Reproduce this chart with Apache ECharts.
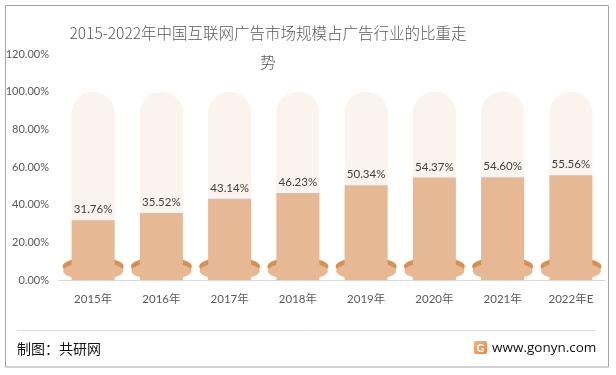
<!DOCTYPE html>
<html><head><meta charset="utf-8">
<script src="https://cdn.jsdelivr.net/npm/echarts@6/dist/echarts.min.js"></script>
<style>html,body{margin:0;padding:0;background:#fff}#c{width:616px;height:375px}</style>
</head><body><div id="c"></div>
<script>
var categories = ['2015年','2016年','2017年','2018年','2019年','2020年','2021年','2022年E'];
var shareValues = [31.76, 35.52, 43.14, 46.23, 50.34, 54.37, 54.60, 55.56];
var backgroundValues = [100, 100, 100, 100, 100, 100, 100, 100];
var yTicks = ['0.00%','20.00%','40.00%','60.00%','80.00%','100.00%','120.00%'];
var titleText = '2015-2022年中国互联网广告市场规模占广告行业的比重走\n势';
var sourceText = '制图：共研网';
var siteText = 'www.gonyn.com';

var numFont = 'Lato, "Noto Sans CJK SC", sans-serif';
var cjkFont = '"Noto Sans CJK SC", sans-serif';

var chart = echarts.init(document.getElementById('c'), null, {renderer:'canvas'});
chart.setOption({
  animation: false,
  backgroundColor: '#ffffff',
  title: {
    text: titleText,
    left: 263, top: 14, textAlign: 'center',
    textStyle: {fontFamily: cjkFont, fontSize: 15.5, fontWeight: 300, color: '#595959', lineHeight: 29}
  },
  grid: {left: 59, right: 11, top: 54, bottom: 95},
  xAxis: {
    type: 'category', data: categories,
    axisLine: {lineStyle: {color: '#d9d9d9'}},
    axisTick: {show: false},
    axisLabel: {color: '#595959', fontFamily: numFont, fontSize: 11.5, margin: 14}
  },
  yAxis: {
    type: 'value', min: 0, max: 120, interval: 20,
    axisLine: {show: false}, axisTick: {show: false},
    splitLine: {show: false},
    axisLabel: {color: '#595959', fontFamily: numFont, fontSize: 11, margin: 10,
      formatter: function(v){ return yTicks[Math.round(v/20)]; }}
  },
  series: [
    {type: 'bar', data: backgroundValues, barWidth: 43, barGap: '-100%', z: 1,
     itemStyle: {color: '#fbf3ee', borderRadius: [21.5,21.5,0,0]}, silent: true},
    {type: 'pictorialBar', data: shareValues, symbol: 'circle', symbolSize: [61, 19],
     symbolPosition: 'start', symbolOffset: [0, -4], barGap: '-100%', z: 2,
     itemStyle: {color: '#d98f4f'}},
    {type: 'bar', data: shareValues, barWidth: 43, barGap: '-100%', z: 3,
     itemStyle: {color: '#e6b894'},
     label: {show: true, position: 'top', distance: 5, color: '#404040', fontFamily: numFont, fontSize: 11.5,
       formatter: function(p){ return p.value.toFixed(2) + '%'; }}},
    {type: 'pictorialBar', data: shareValues, symbol: 'circle', symbolSize: [60, 18],
     symbolPosition: 'start', symbolOffset: [0, 0], barGap: '-100%', z: 4,
     itemStyle: {color: '#e6b894'}}
  ],
  graphic: [
    {type: 'rect', shape: {x: 5.5, y: 5.5, width: 603, height: 361.5}, style: {fill: null, stroke: '#a6a6a6', lineWidth: 1}, z: 100, silent: true},
    {type: 'line', shape: {x1: 17, y1: 330.5, x2: 596, y2: 330.5}, style: {stroke: '#d9d9d9', lineWidth: 1}, silent: true},
    {type: 'text', x: 17, y: 349, style: {text: sourceText, fontFamily: cjkFont, fontSize: 14, fill: '#111', textVerticalAlign: 'middle'}},
    {type: 'rect', shape: {x: 474, y: 341, width: 13, height: 13, r: 2},
     style: {fill: {type: 'linear', x: 0, y: 0, x2: 1, y2: 1, colorStops: [{offset: 0, color: '#f7b57a'}, {offset: 1, color: '#ef7f45'}]}}},
    {type: 'text', x: 480.5, y: 348, style: {text: 'G', fontFamily: 'Lato, sans-serif', fontWeight: 'bold', fontSize: 11, fill: '#fff', textAlign: 'center', textVerticalAlign: 'middle'}},
    {type: 'text', x: 492, y: 348, style: {text: siteText, fontFamily: '"Open Sans", sans-serif', fontSize: 13.5, fill: '#111', textVerticalAlign: 'middle'}}
  ]
});
</script></body></html>
